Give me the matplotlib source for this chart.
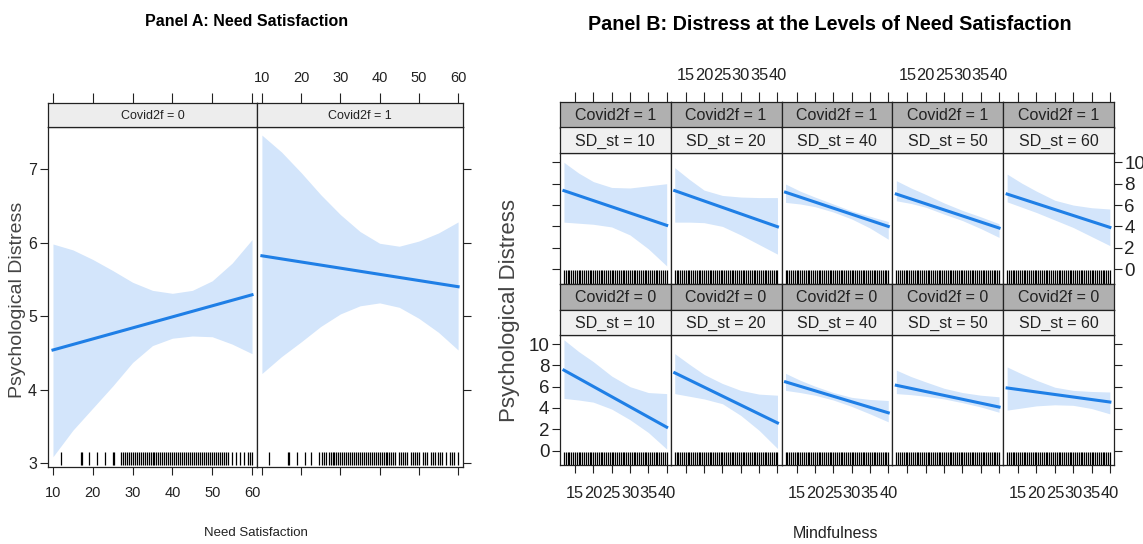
import matplotlib.pyplot as plt

plt.rcParams['font.family'] = ['Liberation Sans', 'DejaVu Sans']

# ---- panel A data: need satisfaction x covid period ----
need_ticks = [10, 20, 30, 40, 50, 60]
need_line_x = [10, 60]
need_band_x = [10, 15, 20, 25, 30, 35, 40, 45, 50, 55, 60]
covid0_line = [4.54, 5.29]
covid0_upper = [5.98, 5.90, 5.77, 5.62, 5.46, 5.35, 5.31, 5.35, 5.48, 5.72, 6.04]
covid0_lower = [3.09, 3.45, 3.75, 4.05, 4.37, 4.60, 4.70, 4.73, 4.72, 4.62, 4.49]
covid1_line = [5.82, 5.40]
covid1_upper = [7.46, 7.23, 6.95, 6.65, 6.38, 6.15, 5.99, 5.95, 6.02, 6.13, 6.28]
covid1_lower = [4.22, 4.45, 4.65, 4.86, 5.03, 5.14, 5.18, 5.12, 4.97, 4.78, 4.54]
covid0_rug = [12, 17, 17.3, 19, 21, 23, 25, 25.4, 27, 27.5, 28, 28.5, 29, 29.5, 30, 30.5,
              31, 31.5, 32, 32.5, 33, 33.5, 34, 34.5, 35, 35.5, 36, 36.5, 37, 37.5, 38,
              38.5, 39, 39.5, 40, 40.5, 41, 41.5, 42, 42.5, 43, 43.5, 44, 44.5, 45, 45.5,
              46, 46.5, 47, 47.5, 48, 48.5, 49, 49.5, 50, 50.5, 51, 51.5, 52, 52.5, 53,
              53.5, 54, 55, 56, 57, 58, 59, 59.5, 60]
covid1_rug = [11.7, 16.7, 17, 18.9, 21, 22.6, 24.6, 25.2, 25.8, 26.4, 27, 27.5, 28, 28.5,
              29, 29.5, 30, 30.5, 31, 31.5, 32, 32.5, 33, 33.5, 34, 34.5, 35, 35.5, 36,
              36.5, 37, 37.5, 38, 38.5, 39, 39.5, 40, 40.5, 41, 41.5, 42, 42.5, 43, 43.5,
              44, 45, 45.5, 46, 46.5, 47, 48, 48.5, 49, 49.5, 50, 51, 51.5, 52, 53, 53.5,
              54, 55, 55.5, 56, 57, 58, 58.5, 59, 60]

# ---- panel B data: mindfulness x SD_st x covid period ----
mind_ticks = [15, 20, 25, 30, 35, 40]
mind_line_x = [12, 40]
mind_band_x = [12, 16, 20, 25, 30, 35, 40]
sd_levels = [10, 20, 40, 50, 60]

c1_lines = [[7.35, 4.10], [7.35, 3.97], [7.20, 4.00], [7.03, 3.85], [7.03, 3.91]]
c1_upper = [[10.0, 9.0, 8.2, 7.65, 7.6, 7.8, 8.0],
            [9.5, 8.4, 7.4, 6.9, 6.75, 6.7, 6.7],
            [7.97, 7.3, 6.75, 6.1, 5.45, 4.95, 4.45],
            [8.28, 7.6, 7.0, 6.2, 5.5, 4.9, 4.25],
            [8.9, 8.05, 7.3, 6.45, 6.0, 5.75, 5.63]]
c1_lower = [[4.4, 4.3, 4.2, 3.95, 3.2, 1.9, 0.3],
            [4.4, 4.4, 4.35, 4.0, 3.2, 2.3, 1.4],
            [6.25, 6.1, 5.85, 5.35, 4.7, 3.85, 2.8],
            [6.4, 6.15, 5.8, 5.15, 4.55, 3.8, 2.97],
            [6.3, 5.8, 5.3, 4.6, 3.9, 3.05, 2.2]]

c0_lines = [[7.55, 2.20], [7.30, 2.60], [6.45, 3.55], [6.13, 4.09], [5.88, 4.56]]
c0_upper = [[10.4, 9.3, 8.35, 7.0, 6.0, 5.45, 5.35],
            [9.1, 8.1, 7.15, 6.3, 5.65, 5.3, 5.2],
            [7.25, 6.6, 6.05, 5.45, 5.0, 4.8, 4.7],
            [7.55, 6.95, 6.45, 5.85, 5.45, 5.2, 5.05],
            [7.85, 7.2, 6.6, 5.95, 5.65, 5.55, 5.5]]
c0_lower = [[4.9, 4.75, 4.55, 3.9, 2.9, 1.7, 0.15],
            [5.35, 5.1, 4.85, 4.4, 3.3, 1.9, 0.2],
            [5.65, 5.45, 5.2, 4.75, 4.15, 3.45, 2.7],
            [5.35, 5.25, 5.1, 4.85, 4.5, 4.1, 3.6],
            [3.8, 4.0, 4.2, 4.3, 4.25, 3.95, 3.45]]

mind_rug = [12, 12.5, 13, 13.5, 14, 14.5, 15, 15.5, 16, 16.5, 17, 17.5, 18, 18.5, 19, 19.5,
            20, 20.5, 21, 21.5, 22, 22.5, 23, 23.5, 24, 24.5, 25, 25.5, 26, 26.5, 27, 27.5,
            28, 28.5, 29, 29.5, 30, 30.5, 31, 31.5, 32, 32.5, 33, 33.5, 34, 34.5, 35, 35.5,
            36, 36.5, 37, 37.5, 38, 38.5, 39, 39.5, 40]
dist_ticks = [0, 2, 4, 6, 8, 10]
dist_a_ticks = [3, 4, 5, 6, 7]

line_color = '#1f7fe6'
band_color = '#d3e5fb'
edge = '#222222'

W, H = 1143, 544
fig = plt.figure(figsize=(W / 100, H / 100), dpi=100)


def px_axes(x0, y0, x1, y1):
    return fig.add_axes([x0 / W, 1 - y1 / H, (x1 - x0) / W, (y1 - y0) / H])


def style_frame(ax):
    for s in ax.spines.values():
        s.set_linewidth(0.9)
        s.set_color(edge)


def strip(x0, y0, x1, y1, text, color, size):
    s = px_axes(x0, y0, x1, y1)
    s.set_facecolor(color)
    style_frame(s)
    s.set_yticks([])
    s.text(0.5, 0.47, text, ha='center', va='center', fontsize=size, color='#222222',
           transform=s.transAxes)
    return s


# ---------------- Panel A ----------------
a_cols = [(48, 257), (257, 463)]
a_lines = [covid0_line, covid1_line]
a_upper = [covid0_upper, covid1_upper]
a_lower = [covid0_lower, covid1_lower]
a_rugs = [covid0_rug, covid1_rug]

for i, (x0, x1) in enumerate(a_cols):
    ax = px_axes(x0, 127, x1, 467)
    ax.fill_between(need_band_x, a_lower[i], a_upper[i], color=band_color, lw=0)
    ax.plot(need_line_x, a_lines[i], color=line_color, lw=2.2)
    ax.vlines(a_rugs[i], 0.005, 0.045, transform=ax.get_xaxis_transform(),
              color='black', lw=0.9)
    ax.set_xlim(8.75, 61.25)
    ax.set_ylim(2.95, 7.57)
    ax.set_xticks(need_ticks)
    ax.set_yticks(dist_a_ticks)
    style_frame(ax)
    ax.tick_params(direction='out', length=6, width=0.8, labelsize=10.5, colors=edge)
    ax.tick_params(axis='x', pad=8, labelbottom=(i == 0))
    ax.tick_params(axis='y', pad=2, left=(i == 0), labelleft=(i == 0),
                   right=(i == 1), labelright=False, labelsize=11.5)

    s = strip(x0, 103, x1, 127, f'Covid2f = {i}', '#ededed', 9)
    s.set_xlim(8.75, 61.25)
    s.set_xticks(need_ticks)
    s.tick_params(axis='x', direction='out', length=7, width=0.8, colors=edge,
                  bottom=False, labelbottom=False, top=True, labeltop=(i == 1),
                  labelsize=10.5, pad=6)

fig.text(247 / W, 1 - 22 / H, 'Panel A: Need Satisfaction', ha='center', va='center',
         fontsize=11.5, weight='bold')
fig.text(18 / W, 1 - 300 / H, 'Psychological Distress', ha='center', va='center',
         rotation=90, fontsize=14, color='#444444')
fig.text(256 / W, 1 - 533 / H, 'Need Satisfaction', ha='center', va='center',
         fontsize=9.5, color='#222222')

# ---------------- Panel B ----------------
b_left, b_w = 559.9, 110.8
rows = [
    # covid value, strip top, strip mid, plot top, plot bottom, data
    (1, 102, 127.5, 153.3, 283.5, c1_lines, c1_upper, c1_lower),
    (0, 283.5, 309.5, 335, 465, c0_lines, c0_upper, c0_lower),
]

for r, (cv, st, sm, pt, pb, lines, uppers, lowers) in enumerate(rows):
    for j, sd in enumerate(sd_levels):
        x0 = b_left + j * b_w
        x1 = x0 + b_w
        ax = px_axes(x0, pt, x1, pb)
        ax.fill_between(mind_band_x, lowers[j], uppers[j], color=band_color, lw=0)
        ax.plot(mind_line_x, lines[j], color=line_color, lw=2.2)
        ax.vlines(mind_rug, 0.0, 0.1, transform=ax.get_xaxis_transform(),
                  color='black', lw=0.9)
        ax.set_xlim(10.9, 41.1)
        ax.set_ylim(-1.35, 10.85)
        ax.set_xticks(mind_ticks)
        ax.set_yticks(dist_ticks)
        style_frame(ax)
        ax.tick_params(direction='out', length=6, width=0.8, labelsize=11.8, colors=edge)
        ax.tick_params(axis='x', pad=9, bottom=(r == 1), labelbottom=(r == 1 and j % 2 == 0))
        ax.tick_params(axis='y', pad=1.5, labelsize=13.5, left=(j == 0),
                       labelleft=(j == 0 and r == 1),
                       right=(j == 4), labelright=(j == 4 and r == 0))

        s1 = strip(x0, st, x1, sm, f'Covid2f = {cv}', '#b0b0b0', 11.5)
        s2 = strip(x0, sm, x1, pt, f'SD_st = {sd}', '#f0f0f0', 11.5)
        s2.set_xticks([])
        s1.set_xlim(10.9, 41.1)
        if r == 0:
            s1.set_xticks(mind_ticks)
            s1.tick_params(axis='x', direction='out', length=7, width=0.8, colors=edge,
                           bottom=False, labelbottom=False, top=True,
                           labeltop=(j % 2 == 1), labelsize=11.8, pad=7)
        else:
            s1.set_xticks([])

fig.text(830 / W, 1 - 25 / H, 'Panel B: Distress at the Levels of Need Satisfaction',
         ha='center', va='center', fontsize=14.2, weight='bold')
fig.text(509 / W, 1 - 310 / H, 'Psychological Distress', ha='center', va='center',
         rotation=90, fontsize=16, color='#444444')
fig.text(836 / W, 1 - 533 / H, 'Mindfulness', ha='center', va='center',
         fontsize=11.5, color='#222222')

fig.savefig('out.png', dpi=100)
